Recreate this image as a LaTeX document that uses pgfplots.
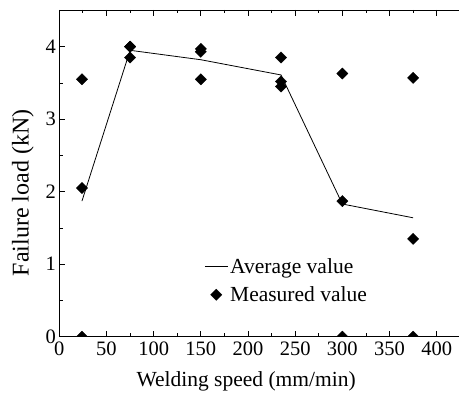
\documentclass[border=0pt]{standalone}
\usepackage{fontspec}
\setmainfont{Liberation Serif}
\usepackage{pgfplots}
\pgfplotsset{compat=1.18}
\begin{document}
\begin{tikzpicture}
\begin{axis}[
  scale only axis, width=403pt, height=326.7pt,
  xmin=0, xmax=427.1, ymin=0, ymax=4.506,
  axis x line*=box, axis y line*=left,
  clip marker paths=true,
  xtick={0,50,...,400}, minor x tick num=1,
  ytick={0,1,2,3,4}, minor y tick num=1,
  tick align=inside,
  major tick length=6pt, minor tick length=3.5pt,
  tick style={black, line width=0.8pt},
  axis line style={black, line width=0.9pt},
  /pgf/number format/assume math mode=true,
  tick label style={font=\fontsize{20.5}{24}\selectfont},
  xticklabel shift=2pt,
  xlabel={Welding speed (mm/min)},
  ylabel={Failure load (kN)},
  every axis x label/.style={at={(axis description cs:0.4637,-0.153)}, anchor=base, font=\fontsize{21.5}{25}\selectfont},
  every axis y label/.style={at={(axis description cs:-0.0762,0.44)}, anchor=base, rotate=90, font=\fontsize{24}{28}\selectfont},
  legend style={at={(axis description cs:0.352,0.172)}, anchor=west, draw=none, fill=none,
    font=\fontsize{21.5}{25}\selectfont, row sep=8pt},
  legend cell align=left,
  legend image code/.code={\draw[mark repeat=2,mark phase=2,#1] plot coordinates {(0pt,0pt) (11.5pt,0pt) (23pt,0pt)};},
]
\addplot[black, line width=0.8pt, mark=none] coordinates {
  (24,1.87) (75,3.95) (150,3.82) (235,3.61) (300,1.83) (375,1.64)
};
\addlegendentry{Average value}
\addplot[only marks, mark=square*, mark size=4pt, mark options={rotate=45, fill=black, draw=black, line width=0.3pt}] coordinates {
  (24,3.55) (24,2.05) (24,0)
  (75,4.0) (75,4.0) (75,3.85)
  (150,3.97) (150,3.93) (150,3.55)
  (235,3.85) (235,3.52) (235,3.45)
  (300,3.63) (300,1.87) (300,0)
  (375,3.57) (375,1.35) (375,0)
};
\addlegendentry{Measured value}
\coordinate (bl) at (rel axis cs:0,0);
\end{axis}
\pgfresetboundingbox
\path[use as bounding box] ([shift={(-59.3pt,-56.3pt)}]bl) rectangle ([shift={(399.7pt,336.7pt)}]bl);
\end{tikzpicture}
\end{document}
